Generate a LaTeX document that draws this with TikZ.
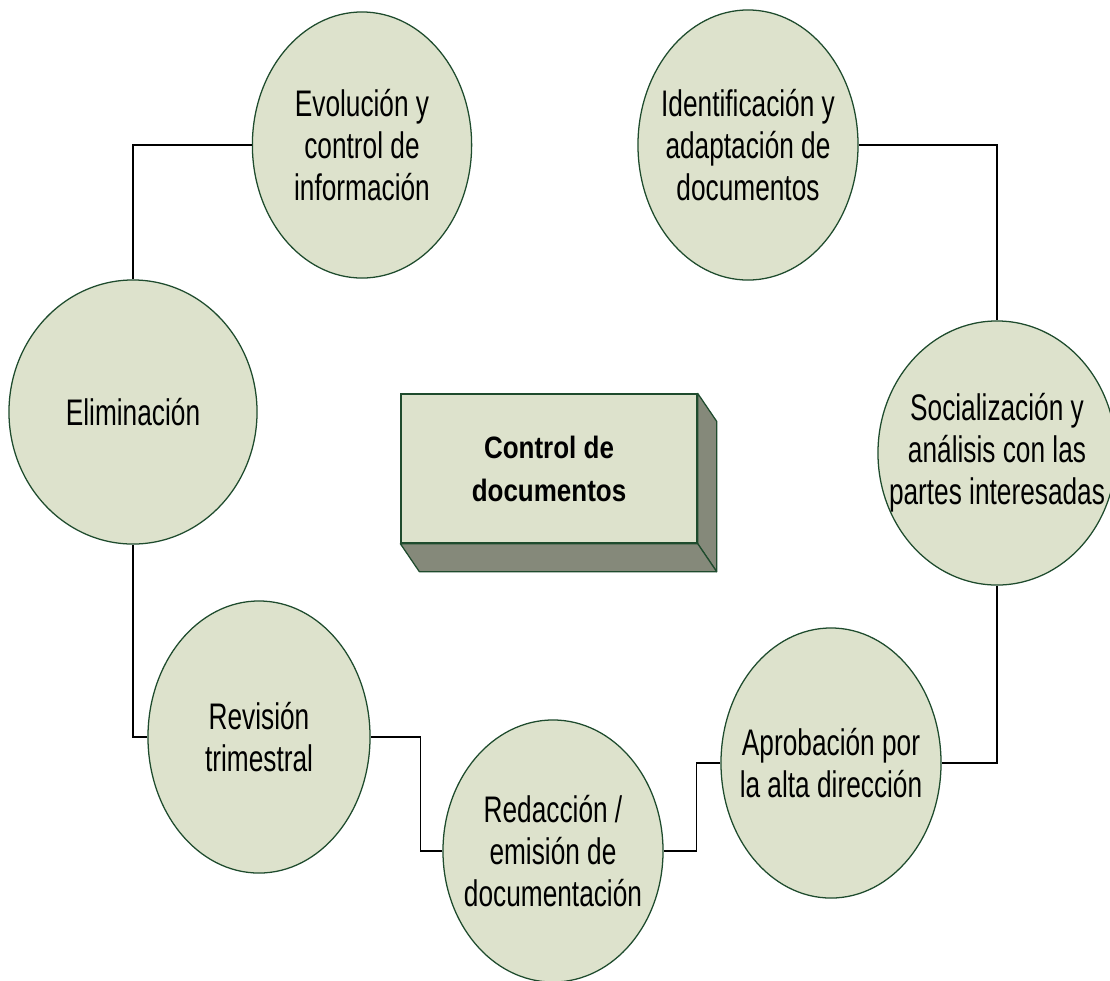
\documentclass[tikz,border=0pt]{standalone}
\usepackage{fontspec}
\setmainfont{Liberation Sans}[FakeStretch=0.71]
\newfontfamily\cajafont{Liberation Sans}[FakeStretch=0.84]
\usepackage{tikz}
\usetikzlibrary{shapes.geometric,calc}
\definecolor{docfill}{RGB}{221,226,204}
\definecolor{docedge}{RGB}{30,75,45}
\definecolor{docside}{RGB}{133,137,122}

\tikzset{
  paso/.style={ellipse, draw=docedge, fill=docfill, line width=0.9pt, inner sep=0pt},
  pasotexto/.style={align=center, font=\fontsize{26.3}{29.9}\selectfont},
  enlace/.style={draw=black, line width=1.1pt},
}

\begin{document}
\begin{tikzpicture}[x=0.025cm, y=-0.025cm]
\useasboundingbox (0,0) rectangle (1110,980);

% === Steps of the cycle ===
\node[paso, minimum width=5.48cm, minimum height=6.65cm,
  label={[pasotexto]center:{Evolución y\\control de\\información}}] (evo) at (362,145) {};
\node[paso, minimum width=5.5cm, minimum height=6.75cm,
  label={[pasotexto]center:{Identificación y\\adaptación de\\documentos}}] (ident) at (748,145) {};
\node[paso, minimum width=6.2cm, minimum height=6.6cm,
  label={[pasotexto]center:{Eliminación}}] (elim) at (133,412) {};
\node[paso, minimum width=5.95cm, minimum height=6.6cm,
  label={[pasotexto]center:{Socialización y\\análisis con las\\partes interesadas}}] (soc) at (997,453) {};
\node[paso, minimum width=5.55cm, minimum height=6.8cm,
  label={[pasotexto]center:{Revisión\\trimestral}}] (revi) at (259,737) {};
\node[paso, minimum width=5.5cm, minimum height=6.55cm,
  label={[pasotexto]center:{Redacción /\\emisión de\\documentación}}] (reda) at (553,851) {};
\node[paso, minimum width=5.5cm, minimum height=6.75cm,
  label={[pasotexto]center:{Aprobación por\\la alta dirección}}] (apro) at (831,763) {};

% === Connectors ===
\draw[enlace] (evo.west) -| (elim.north);
\draw[enlace] (ident.east) -| (soc.north);
\draw[enlace] (soc.south) |- (apro.east);
\draw[enlace] (apro.west) -- ++(-24,0) |- (reda.east);
\draw[enlace] (reda.west) -- ++(-22,0) |- (revi.east);
\draw[enlace] (revi.west) -| (elim.south);

% === Central 3D box ===
\node[draw=docedge, fill=docfill, line width=0.9pt, minimum width=7.4cm, minimum height=3.725cm,
  align=center, font=\cajafont\bfseries\fontsize{22}{30.6}\selectfont] (caja) at (549,468.5) {Control de\\documentos};
\filldraw[fill=docside, draw=docedge, line width=0.9pt, line join=round]
  (caja.north east) -- ++(19,28) -- ([shift={(19,28)}]caja.south east) -- (caja.south east) -- cycle;
\filldraw[fill=docside, draw=docedge, line width=0.9pt, line join=round]
  (caja.south west) -- ([shift={(19,28)}]caja.south west) -- ([shift={(19,28)}]caja.south east) -- (caja.south east) -- cycle;

\end{tikzpicture}
\end{document}
